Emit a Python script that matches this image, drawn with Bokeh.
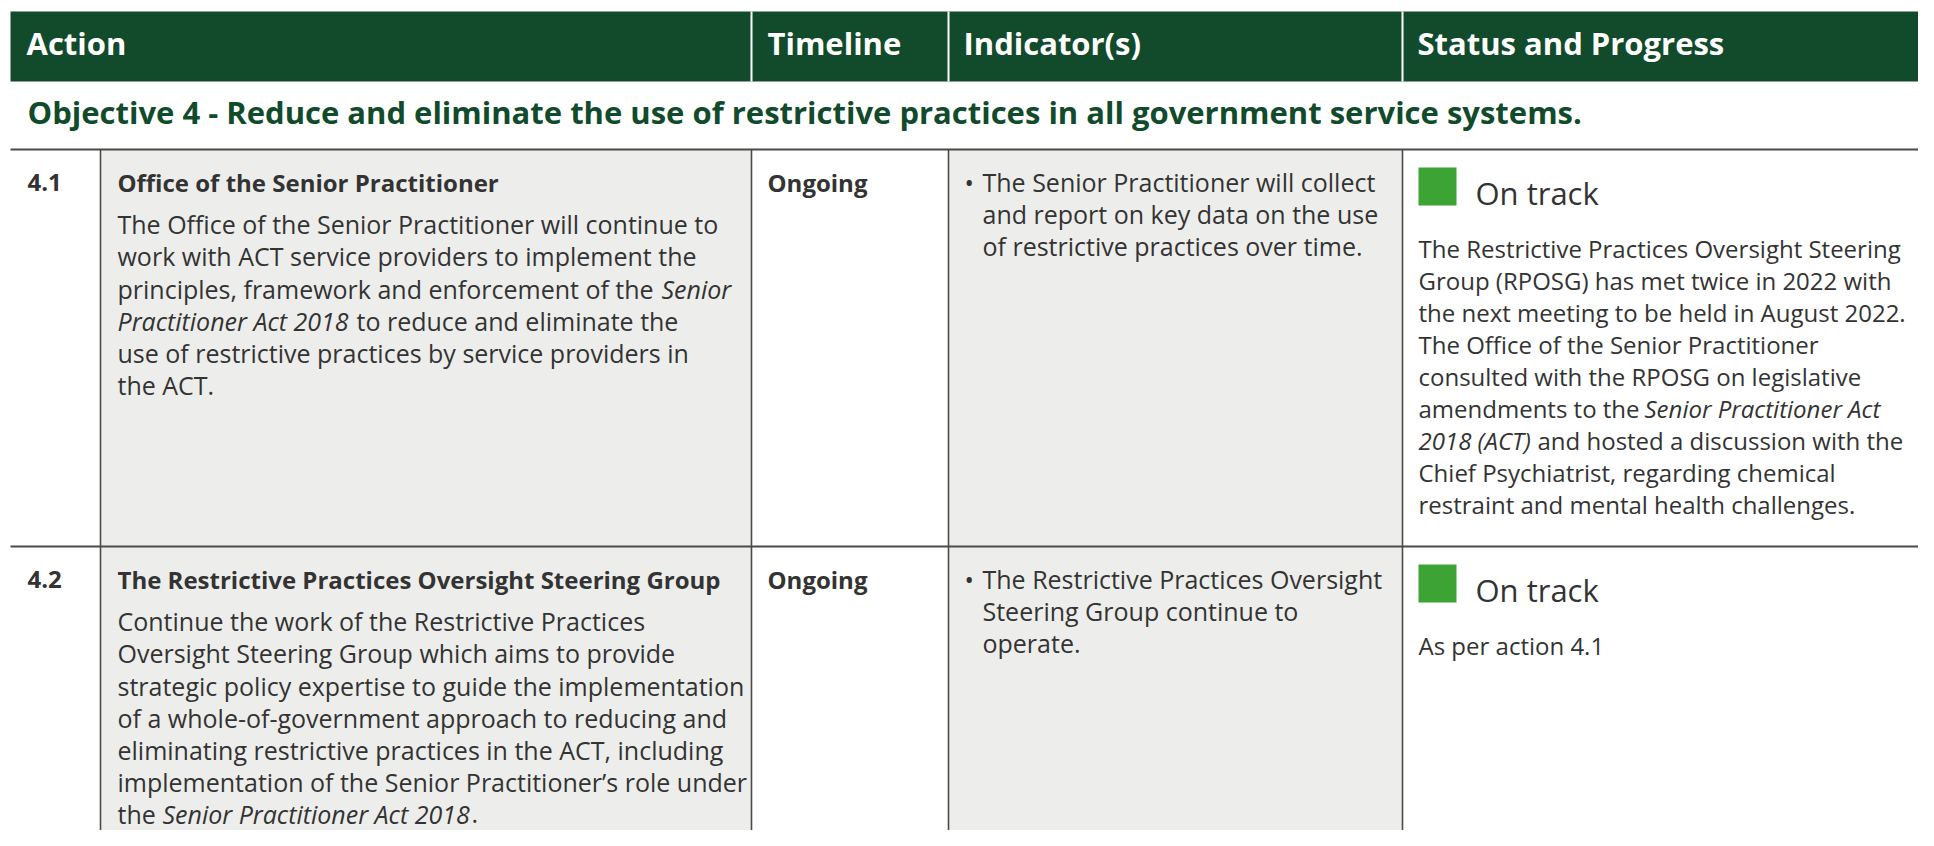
from bokeh.plotting import figure
from bokeh.models import Range1d, ColumnDataSource
from bokeh.core.properties import value
from bokeh.embed import file_html
from bokeh.resources import INLINE

# ---------------- content ----------------
HEADERS = ["Action", "Timeline", "Indicator(s)", "Status and Progress"]
OBJECTIVE = "Objective 4 - Reduce and eliminate the use of restrictive practices in all government service systems."
ACTION_IDS = ["4.1", "4.2"]
ACTION_TITLES = ["Office of the Senior Practitioner",
                 "The Restrictive Practices Oversight Steering Group"]
ACTION_TEXT = [
    [[("The Office of the Senior Practitioner will continue to", "normal")],
     [("work with ACT service providers to implement the", "normal")],
     [("principles, framework and enforcement of the", "normal"), ("Senior", "italic")],
     [("Practitioner Act 2018", "italic"), ("to reduce and eliminate the", "normal")],
     [("use of restrictive practices by service providers in", "normal")],
     [("the ACT.", "normal")]],
    [[("Continue the work of the Restrictive Practices", "normal")],
     [("Oversight Steering Group which aims to provide", "normal")],
     [("strategic policy expertise to guide the implementation", "normal")],
     [("of a whole-of-government approach to reducing and", "normal")],
     [("eliminating restrictive practices in the ACT, including", "normal")],
     [("implementation of the Senior Practitioner\u2019s role under", "normal")],
     [("the", "normal"), ("Senior Practitioner Act 2018", "italic"), (".", "normal")]],
]
TIMELINES = ["Ongoing", "Ongoing"]
INDICATORS = [
    ["The Senior Practitioner will collect", "and report on key data on the use",
     "of restrictive practices over time."],
    ["The Restrictive Practices Oversight", "Steering Group continue to", "operate."],
]
STATUS = ["On track", "On track"]
PROGRESS = [
    [[("The Restrictive Practices Oversight Steering", "normal")],
     [("Group (RPOSG) has met twice in 2022 with", "normal")],
     [("the next meeting to be held in August 2022.", "normal")],
     [("The Office of the Senior Practitioner", "normal")],
     [("consulted with the RPOSG on legislative", "normal")],
     [("amendments to the", "normal"), ("Senior Practitioner Act", "italic")],
     [("2018 (ACT)", "italic"), ("and hosted a discussion with the", "normal")],
     [("Chief Psychiatrist, regarding chemical", "normal")],
     [("restraint and mental health challenges.", "normal")]],
    [[("As per action 4.1", "normal")]],
]

# ---------------- layout / style ----------------
GREEN = "#114B2B"
GRAY = "#EDEEEB"
LINE = "#4A4A4A"
TXT = "#333333"
SQUARE = "#3DA335"
FONT = "Open Sans"
BODY_PX = 25        # action + indicator text
PROG_PX = 24        # status / progress text
BOLD_PX = 24
BIG_PX = 31
DESC = 0.39         # baseline correction (fraction of font size)

LEFT, RIGHT = 10, 1940
HEAD_T, HEAD_B = 11, 81
COL_X = [10, 100, 751, 948, 1402]         # left edges: num, action, timeline, indicator, status
HEAD_X = [26, 767, 963, 1417]
ROW_TOP = [149, 546]
BOTTOM = 860
PAD = 17
LS = 32.15
# x starts of inline segments after the first (row, kind, line, seg)
SEG_X = {
    (0, "a", 2, 1): 661,
    (0, "a", 3, 1): 356,
    (1, "a", 6, 1): 162,
    (1, "a", 6, 2): 471,
    (0, "s", 5, 1): 1644,
    (0, "s", 6, 1): 1537,
}

W, H = 1918, 830
p = figure(width=W, height=H, x_range=Range1d(0, W), y_range=Range1d(H, 0),
           output_backend="svg", toolbar_location=None, min_border=0)
p.axis.visible = False
p.grid.visible = False
p.outline_line_color = None
p.background_fill_color = "white"
p.border_fill_color = "white"

# header band
p.quad(left=[LEFT], right=[RIGHT], top=[HEAD_T], bottom=[HEAD_B], fill_color=GREEN, line_color=None)
p.segment(x0=COL_X[2:], x1=COL_X[2:], y0=[HEAD_T] * 3, y1=[HEAD_B] * 3, line_color="white", line_width=2)

# grey cells
p.quad(left=[COL_X[1], COL_X[3]], right=[COL_X[2], COL_X[4]], top=[ROW_TOP[0]] * 2, bottom=[BOTTOM] * 2,
       fill_color=GRAY, line_color=None)
# horizontal rules
p.segment(x0=[LEFT] * 2, x1=[RIGHT] * 2, y0=ROW_TOP, y1=ROW_TOP, line_color=LINE, line_width=2.2)
# vertical rules
p.segment(x0=COL_X[1:], x1=COL_X[1:], y0=[ROW_TOP[0]] * 4, y1=[BOTTOM] * 4, line_color=LINE, line_width=1.6)


def add_text(xs, ys, texts, size, style="normal", color=TXT, font=FONT):
    ys = [y - DESC * size for y in ys]
    src = ColumnDataSource(dict(x=xs, y=ys, t=texts))
    p.text(x="x", y="y", text="t", source=src, text_font=value(font), text_font_size=f"{size}px",
           text_font_style=style, text_color=color, text_align="left", text_baseline="alphabetic")


# header texts
add_text(HEAD_X, [55] * 4, HEADERS, BIG_PX, "bold", "white")
# objective
add_text([27], [124], [OBJECTIVE], BIG_PX, "bold", GREEN)

segs = {}


def put(x, y, t, style, size):
    d = segs.setdefault((style, size), ([], [], []))
    d[0].append(x)
    d[1].append(y)
    d[2].append(t)


for r in range(2):
    top = ROW_TOP[r]
    put(27, top + 42, ACTION_IDS[r], "bold", BOLD_PX)
    put(COL_X[1] + PAD, top + 42, ACTION_TITLES[r], "bold", BOLD_PX)
    for i, line in enumerate(ACTION_TEXT[r]):
        for j, (t, st) in enumerate(line):
            x = COL_X[1] + PAD if j == 0 else SEG_X[(r, "a", i, j)]
            put(x, top + 84.5 + i * LS, t, st, BODY_PX)
    put(COL_X[2] + 16, top + 42, TIMELINES[r], "bold", BOLD_PX)
    for i, t in enumerate(INDICATORS[r]):
        if i == 0:
            put(COL_X[3] + 16, top + 42.5, "\u2022", "normal", BODY_PX)
        put(COL_X[3] + 34, top + 42.5 + i * 32.1, t, "normal", BODY_PX)
    for i, line in enumerate(PROGRESS[r]):
        for j, (t, st) in enumerate(line):
            x = COL_X[4] + 16 if j == 0 else SEG_X[(r, "s", i, j)]
            put(x, top + 108 + i * 32.0, t, st, PROG_PX)

for (st, size), (xs, ys, ts) in segs.items():
    add_text(xs, ys, ts, size, st)

# status squares + labels
p.quad(left=[COL_X[4] + 16] * 2, right=[COL_X[4] + 54] * 2, top=[t + 18 for t in ROW_TOP],
       bottom=[t + 56 for t in ROW_TOP], fill_color=SQUARE, line_color=None)
add_text([COL_X[4] + 73] * 2, [t + 56 for t in ROW_TOP], STATUS, BIG_PX)

open("out.html", "w").write(file_html(p, INLINE))
